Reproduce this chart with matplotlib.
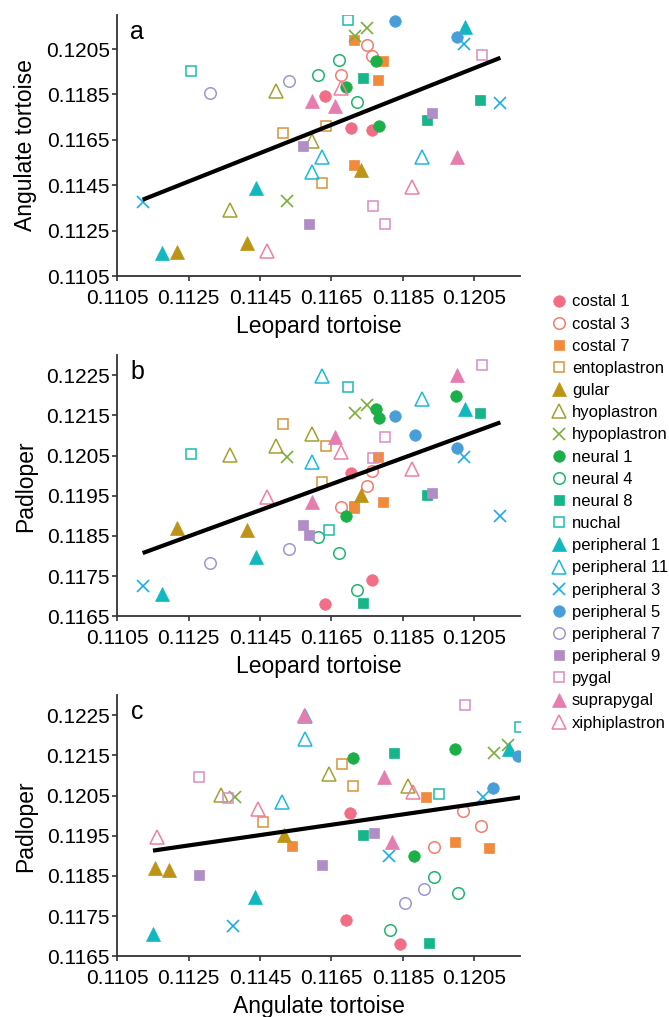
import numpy as np
import matplotlib
matplotlib.use("Agg")
import matplotlib.pyplot as plt
from matplotlib.lines import Line2D

plt.rcParams['font.family'] = ['Liberation Sans', 'DejaVu Sans']

nan = np.nan

# bone elements, in legend order
bones = ['costal 1', 'costal 3', 'costal 7', 'entoplastron', 'gular',
         'hyoplastron', 'hypoplastron', 'neural 1', 'neural 4', 'neural 8',
         'nuchal', 'peripheral 1', 'peripheral 11', 'peripheral 3',
         'peripheral 5', 'peripheral 7', 'peripheral 9', 'pygal',
         'suprapygal', 'xiphiplastron']

# per specimen values for each bone (nan = not measured)
leopard = [
    [0.11632, 0.11704, 0.11763],
    [0.11749, 0.11763, 0.11676],
    [0.11712, 0.11794, 0.11779, 0.11712],
    [0.11515, 0.11635, 0.11623],
    [0.11218, 0.11413, 0.11732],
    [0.11366, 0.11495, 0.11595],
    [0.11749, 0.11716, 0.11525],
    [0.11775, 0.11691, 0.11782, 0.11999],
    [0.11611, 0.11670, 0.11721],
    [0.11738, 0.11917, 0.12067],
    [0.11256, 0.11697, 0.11642],
    [0.11438, 0.11176, 0.12025],
    [0.11623, 0.11595, 0.11903],
    [0.11121, 0.12020, 0.12123],
    [0.11827, 0.12001, 0.11885],
    [0.11532, 0.11310],
    [0.11569, 0.11588, 0.11931],
    [0.11766, 0.11800, 0.12071],
    [0.11595, 0.11660, 0.12001],
    [0.11676, 0.11469, 0.11875],
]
angulate = [
    [0.11841, 0.11701, 0.11691],
    [0.12069, 0.12018, 0.11937],
    [0.12091, 0.11996, 0.11915, 0.11540],
    [0.11679, 0.11709, 0.11459],
    [0.11157, 0.11194, 0.11518],
    [0.11341, 0.11863, 0.11643],
    [0.12143, 0.12106, 0.11381],
    [0.11996, 0.11881, 0.11709, nan],
    [0.11937, 0.12003, 0.11815],
    [0.11922, 0.11738, 0.11826],
    [0.11951, 0.12179, nan],
    [0.11437, 0.11150, 0.12147],
    [0.11576, 0.11510, 0.11576],
    [0.11375, 0.12074, 0.11812],
    [0.12172, 0.12103, nan],
    [0.11910, 0.11856],
    [0.11624, 0.11279, 0.11768],
    [0.11359, 0.11279, 0.12025],
    [0.11819, 0.11797, 0.11574],
    [0.11878, 0.11162, 0.11444],
]
padloper = [
    [0.11681, 0.12007, 0.11740],
    [0.11974, 0.12012, 0.11923],
    [0.11920, 0.11935, 0.12046, 0.11924],
    [0.12128, 0.12074, 0.11985],
    [0.11871, 0.11865, 0.11952],
    [0.12051, 0.12074, 0.12104],
    [0.12176, 0.12157, 0.12047],
    [0.12167, 0.11900, 0.12144, 0.12198],
    [0.11847, 0.11808, 0.11716],
    [0.11682, 0.11952, 0.12157],
    [0.12055, 0.12221, 0.11865],
    [0.11797, 0.11706, 0.12167],
    [0.12248, 0.12035, 0.12190],
    [0.11726, 0.12046, 0.11900],
    [0.12148, 0.12070, 0.12101],
    [0.11817, 0.11782],
    [0.11877, 0.11852, 0.11958],
    [0.12043, 0.12097, 0.12275],
    [0.11935, 0.12097, 0.12250],
    [0.12060, 0.11948, 0.12016],
]

colors = ['#F26D86', '#F47C6E', '#F28A3C', '#D9923A', '#BE9416',
          '#A3A132', '#7BAE3A', '#1BAF48', '#21B46E', '#16B68A',
          '#1DBAAE', '#12B8C0', '#1CB9DD', '#1BAEE6', '#4A9ED8',
          '#9D98D0', '#B08DC6', '#D68DC4', '#E57EAF', '#F07FA0']
# shape cycle: filled circle, open circle, filled square, open square,
# filled triangle, open triangle, cross
shapes = [('o', True), ('o', False), ('s', True), ('s', False),
          ('^', True), ('^', False), ('x', False)]
sizes = {'o': 8.3, 's': 7.6, '^': 10.5, 'x': 9.0}


def marker_kw(i):
    m, filled = shapes[i % len(shapes)]
    kw = dict(marker=m, markersize=sizes[m], linestyle='none')
    if m == 'x':
        kw.update(color=colors[i], markeredgewidth=1.2)
    elif filled:
        kw.update(markerfacecolor=colors[i], markeredgecolor=colors[i],
                  markeredgewidth=0.5)
    else:
        kw.update(markerfacecolor='none', markeredgecolor=colors[i],
                  markeredgewidth=1.1)
    return kw


def panel(ax, xs, ys, xlabel, ylabel, letter, ylim, yticks):
    allx, ally = [], []
    for i in range(len(bones)):
        x = np.array(xs[i], dtype=float)
        y = np.array(ys[i], dtype=float)
        ok = ~np.isnan(x) & ~np.isnan(y)
        ax.plot(x[ok], y[ok], zorder=3, **marker_kw(i))
        allx.extend(x[ok])
        ally.extend(y[ok])
    allx = np.array(allx)
    ally = np.array(ally)
    # least squares fit over all points
    k, b = np.polyfit(allx, ally, 1)
    xx = np.array([allx.min(), allx.max()])
    ax.plot(xx, k * xx + b, color='black', lw=3.0, zorder=4,
            solid_capstyle='butt')
    ax.set_xlim(0.1105, 0.12178)
    ax.set_ylim(*ylim)
    ax.set_xticks(np.arange(0.1105, 0.1206, 0.002))
    ax.set_yticks(yticks)
    ax.xaxis.set_major_formatter(plt.FormatStrFormatter('%.4f'))
    ax.yaxis.set_major_formatter(plt.FormatStrFormatter('%.4f'))
    for s in ['top', 'right']:
        ax.spines[s].set_visible(False)
    for s in ['left', 'bottom']:
        ax.spines[s].set_linewidth(1.3)
        ax.spines[s].set_color('#333333')
    ax.tick_params(length=3.5, width=1.2, color='#333333', labelsize=15)
    ax.tick_params(axis='x', pad=6)
    ax.tick_params(axis='y', pad=2)
    ax.set_xlabel(xlabel, fontsize=16.5, labelpad=5)
    ax.set_ylabel(ylabel, fontsize=16.5, labelpad=6)
    ax.text(0.05, 0.935, letter, transform=ax.transAxes, fontsize=18,
            ha='center', va='center')


fig = plt.figure(figsize=(6.69, 10.17), dpi=100)
ax_a = fig.add_axes([0.1753, 0.7286, 0.602, 0.2567])
ax_b = fig.add_axes([0.1753, 0.3940, 0.602, 0.2567])
ax_c = fig.add_axes([0.1753, 0.0597, 0.602, 0.2567])

panel(ax_a, leopard, angulate, 'Leopard tortoise', 'Angulate tortoise', 'a',
      (0.1105, 0.1220), np.arange(0.1105, 0.1206, 0.002))
panel(ax_b, leopard, padloper, 'Leopard tortoise', 'Padloper', 'b',
      (0.1165, 0.1230), np.arange(0.1165, 0.12251, 0.001))
panel(ax_c, angulate, padloper, 'Angulate tortoise', 'Padloper', 'c',
      (0.1165, 0.1230), np.arange(0.1165, 0.12251, 0.001))

handles = [Line2D([], [], **marker_kw(i)) for i in range(len(bones))]
fig.legend(handles, bones, loc='upper left', bbox_to_anchor=(0.815, 0.717),
           frameon=False, fontsize=12, handlelength=0.8, handletextpad=0.4,
           labelspacing=0.43, borderaxespad=0)

fig.savefig('out.png', dpi=100)
